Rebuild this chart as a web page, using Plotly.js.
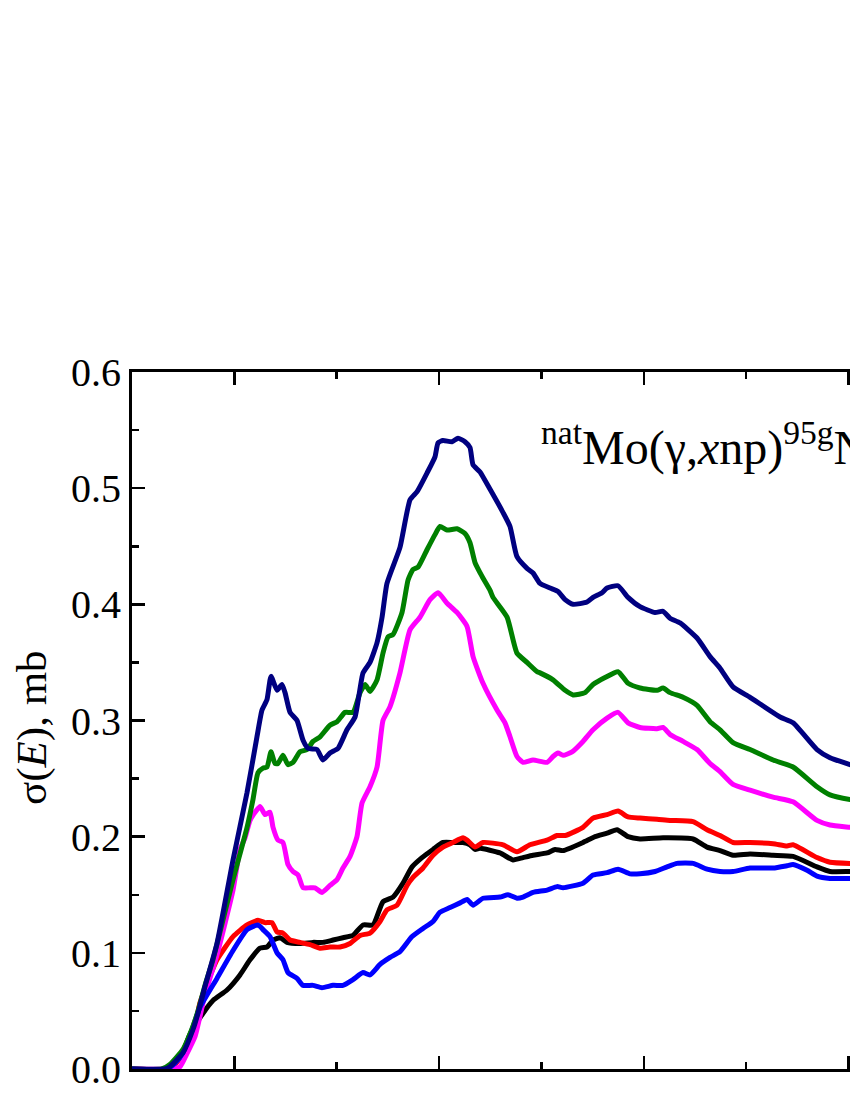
<!DOCTYPE html>
<html>
<head>
<meta charset="utf-8">
<script src="https://cdn.plot.ly/plotly-3.0.1.min.js"></script>
<style>
html,body{margin:0;padding:0;overflow:hidden;background:#fff;}
#chart{width:1000px;height:1100px;}
</style>
</head>
<body>
<div id="chart"></div>
<script>
// Energy (MeV) and cross sections (mb)
const navyE = [10,13.2,13.7,14.98,15.96,16.45,17.13,18.3,19.87,21.24,22.21,22.7,23.19,23.58,24.17,24.65,24.95,25.44,26.12,26.71,27.2,28.07,28.66,29.34,30.13,31.0,31.79,32.57,33.25,33.94,34.43,34.91,36.18,37.16,37.85,38.82,39.6,39.9,40.38,41.26,41.85,42.53,43.02,43.32,44.0,44.98,46.25,46.93,47.61,48.59,49.18,49.86,50.84,51.62,52.31,53.09,54.45,55.04,55.92,56.41,57.48,58.46,59.63,61.1,61.88,62.56,63.54,65.2,66.47,67.45,68.72,70.38,73.31,74.58,76.92,78.19,80.15,81.1];
const navyS = [0,0,0.002,0.014,0.034,0.048,0.071,0.108,0.180,0.238,0.286,0.309,0.318,0.338,0.326,0.331,0.324,0.307,0.300,0.283,0.276,0.275,0.266,0.272,0.276,0.292,0.303,0.341,0.350,0.367,0.389,0.418,0.449,0.490,0.497,0.513,0.527,0.539,0.541,0.540,0.543,0.540,0.535,0.520,0.514,0.499,0.479,0.467,0.441,0.431,0.427,0.418,0.414,0.411,0.404,0.400,0.402,0.406,0.410,0.414,0.416,0.406,0.398,0.393,0.394,0.388,0.384,0.371,0.355,0.345,0.329,0.320,0.303,0.298,0.275,0.268,0.262,0.259];

const greenE = [10,12.9,13.7,14.98,15.96,16.45,17.13,17.91,19.87,21.24,21.82,22.31,22.8,23.19,23.58,23.97,24.26,24.75,25.24,25.73,26.41,27.1,27.68,28.37,29.34,30.03,30.81,31.59,32.28,32.77,33.25,33.94,34.52,35.01,35.5,36.38,36.97,37.45,37.94,38.82,39.6,40.09,40.78,41.75,42.53,43.02,43.51,44.2,44.98,45.27,46.64,47.61,48.59,49.57,49.86,51.13,52.31,53.09,54.26,55.04,56.21,57.48,58.46,59.63,61.29,61.88,62.56,63.83,65.2,66.47,67.45,68.72,70.38,72.63,74.58,76.92,78.19,80.15,81.1];
const greenS = [0,0,0.004,0.017,0.037,0.050,0.072,0.094,0.163,0.208,0.232,0.255,0.259,0.260,0.273,0.263,0.263,0.270,0.262,0.264,0.273,0.275,0.282,0.286,0.296,0.299,0.307,0.307,0.324,0.331,0.325,0.335,0.358,0.372,0.374,0.393,0.421,0.430,0.432,0.447,0.460,0.467,0.464,0.465,0.461,0.453,0.436,0.424,0.412,0.406,0.389,0.358,0.350,0.342,0.341,0.335,0.326,0.322,0.324,0.331,0.337,0.342,0.332,0.328,0.326,0.328,0.324,0.320,0.313,0.299,0.292,0.281,0.275,0.266,0.260,0.243,0.236,0.232,0.231];

const magentaE = [10,13.6,14.69,15.3,16.16,17.13,18.3,19.87,20.55,21.04,21.53,22.02,22.51,22.99,23.48,23.78,24.26,24.75,25.24,25.73,26.22,26.71,27.39,27.88,28.56,29.34,30.03,30.61,31.3,31.98,32.47,33.25,33.94,34.52,35.21,36.18,37.16,38.14,39.11,39.9,40.78,41.75,42.73,43.32,44.29,45.66,46.44,46.93,47.61,48.2,49.18,50.55,51.13,51.62,52.11,52.99,54.06,55.04,56.41,57.48,58.46,59.63,61.29,61.88,62.56,63.83,65.2,66.47,67.45,68.72,70.38,72.63,74.58,76.92,78.19,80.15,81.1];
const magentaS = [0,0,0.002,0.012,0.028,0.064,0.098,0.154,0.189,0.199,0.214,0.221,0.226,0.219,0.221,0.208,0.197,0.195,0.176,0.170,0.167,0.156,0.156,0.156,0.152,0.158,0.163,0.173,0.183,0.200,0.229,0.243,0.260,0.300,0.312,0.341,0.378,0.389,0.404,0.410,0.401,0.393,0.381,0.355,0.332,0.309,0.298,0.286,0.269,0.264,0.266,0.264,0.269,0.272,0.270,0.273,0.282,0.292,0.302,0.307,0.298,0.294,0.293,0.294,0.288,0.282,0.275,0.263,0.256,0.245,0.240,0.234,0.230,0.214,0.210,0.208,0.207];

const redE = [10,13.4,14.2,14.98,15.67,16.16,16.64,17.62,18.3,19.87,21.24,22.31,22.99,23.68,24.17,24.75,25.44,26.41,27.39,28.37,29.34,30.32,31.3,32.28,33.25,34.23,34.91,35.89,36.87,37.45,38.43,39.41,40.38,41.36,42.34,42.73,43.51,44.29,46.25,47.61,48.88,50.55,51.52,52.31,54.06,55.04,56.41,57.48,58.46,59.63,61.29,62.56,64.81,66.18,67.45,68.72,70.38,72.63,73.99,74.58,76.92,78.19,80.15,81.1];
const redS = [0,0,0.004,0.013,0.027,0.038,0.057,0.080,0.094,0.114,0.124,0.128,0.126,0.126,0.118,0.117,0.111,0.109,0.107,0.104,0.105,0.105,0.108,0.115,0.117,0.127,0.137,0.141,0.158,0.165,0.173,0.184,0.191,0.195,0.199,0.197,0.191,0.195,0.193,0.187,0.193,0.197,0.201,0.201,0.208,0.216,0.219,0.222,0.217,0.216,0.215,0.214,0.213,0.206,0.201,0.195,0.195,0.194,0.192,0.193,0.182,0.178,0.177,0.177];

const blackE = [10,13.4,14.2,14.98,15.67,16.94,17.91,19.28,20.55,21.53,22.51,23.19,23.78,24.46,25.14,26.41,27.68,28.66,29.64,30.61,31.59,32.57,33.55,34.52,35.5,36.48,37.36,38.33,39.41,40.38,41.36,42.34,43.02,43.51,44.0,45.95,47.22,48.2,49.18,50.55,51.33,52.11,54.06,55.24,56.41,57.38,58.46,59.63,61.88,64.81,66.18,67.45,68.72,70.38,72.63,74.58,76.92,78.19,80.15,81.1];
const blackS = [0,0,0.005,0.015,0.030,0.048,0.059,0.068,0.081,0.094,0.104,0.105,0.111,0.113,0.109,0.108,0.109,0.109,0.111,0.113,0.115,0.124,0.124,0.144,0.148,0.160,0.174,0.182,0.189,0.195,0.195,0.195,0.193,0.189,0.190,0.186,0.180,0.182,0.184,0.186,0.189,0.188,0.195,0.200,0.203,0.206,0.200,0.198,0.199,0.198,0.191,0.188,0.184,0.185,0.184,0.183,0.174,0.170,0.170,0.170];

const blueE = [10,13.4,14.2,14.98,15.67,16.64,18.3,19.87,21.24,22.31,22.8,23.48,24.17,24.75,25.24,26.12,26.71,27.68,28.56,29.64,30.61,31.59,32.57,33.25,34.23,35.21,36.18,37.36,38.43,39.41,40.09,41.07,42.05,42.73,43.32,44.29,45.95,46.74,47.61,48.2,49.18,50.55,51.52,52.11,54.06,55.04,56.41,57.48,58.65,59.63,61.1,62.27,63.25,64.81,66.18,67.45,68.72,70.38,72.63,73.99,74.58,75.95,76.92,78.19,80.15,81.1];
const blueS = [0,0,0.005,0.014,0.029,0.053,0.078,0.102,0.120,0.124,0.120,0.114,0.100,0.094,0.083,0.078,0.072,0.072,0.070,0.072,0.072,0.077,0.083,0.081,0.090,0.096,0.101,0.114,0.121,0.127,0.135,0.139,0.143,0.146,0.141,0.147,0.148,0.150,0.147,0.148,0.152,0.154,0.157,0.156,0.160,0.167,0.169,0.172,0.168,0.168,0.170,0.174,0.177,0.177,0.172,0.170,0.170,0.173,0.173,0.175,0.176,0.171,0.166,0.164,0.164,0.164];

const yTicks = [0.0,0.1,0.2,0.3,0.4,0.5,0.6];
const yTitle = 'σ(<i>E</i>), mb';
const reaction = '<sup>nat</sup>Mo(γ,<i>x</i>np)<sup>95g</sup>Nb';

const FONT = 'Liberation Serif, Times New Roman, serif';
function tr(x, y, color) {
  return {x: x, y: y, type: 'scatter', mode: 'lines',
          line: {color: color, width: 5, shape: 'spline', smoothing: 0.5},
          hoverinfo: 'skip', showlegend: false};
}
const data = [
  tr(blackE, blackS, '#000000'),
  tr(redE, redS, '#ff0000'),
  tr(magentaE, magentaS, '#ff00ff'),
  tr(blueE, blueS, '#0000ff'),
  tr(greenE, greenS, '#008000'),
  tr(navyE, navyS, '#000080')
];

const layout = {
  width: 1000, height: 1100,
  margin: {l: 132, r: 131, t: 372, b: 31},
  paper_bgcolor: '#ffffff', plot_bgcolor: '#ffffff',
  font: {family: FONT, color: '#000', size: 40},
  xaxis: {
    range: [10, 82], showgrid: false, zeroline: false,
    showline: true, linecolor: '#000', linewidth: 3, mirror: 'ticks',
    ticks: 'inside', ticklen: 13, tickwidth: 2.5, tickcolor: '#000',
    tick0: 0, dtick: 20, showticklabels: false,
    minor: {tick0: 0, dtick: 10, ticks: 'inside', ticklen: 7, tickwidth: 2.5, tickcolor: '#000'}
  },
  yaxis: {
    range: [0, 0.6], showgrid: false, zeroline: false,
    showline: true, linecolor: '#000', linewidth: 3, mirror: 'ticks',
    ticks: 'inside', ticklen: 13, tickwidth: 2.5, tickcolor: '#000',
    tickmode: 'array', tickvals: yTicks, ticktext: yTicks.map(v => v.toFixed(1)),
    tickfont: {family: FONT, size: 40, color: '#000'},
    ticklabelstandoff: 0,
    minor: {dtick: 0.05, tick0: 0, ticks: 'inside', ticklen: 7, tickwidth: 2.5, tickcolor: '#000'}
  },
  annotations: [{
    xref: 'x', yref: 'y', x: 49.8, y: 0.538, xanchor: 'left', yanchor: 'middle',
    text: reaction, showarrow: false,
    font: {family: FONT, size: 48, color: '#000'}
  }, {
    xref: 'paper', yref: 'paper', x: -0.135, y: 0.49, xanchor: 'center', yanchor: 'middle',
    text: yTitle, textangle: -90, showarrow: false,
    font: {family: FONT, size: 43, color: '#000'}
  }]
};

Plotly.newPlot('chart', data, layout, {staticPlot: true, displayModeBar: false});
</script>
</body>
</html>
